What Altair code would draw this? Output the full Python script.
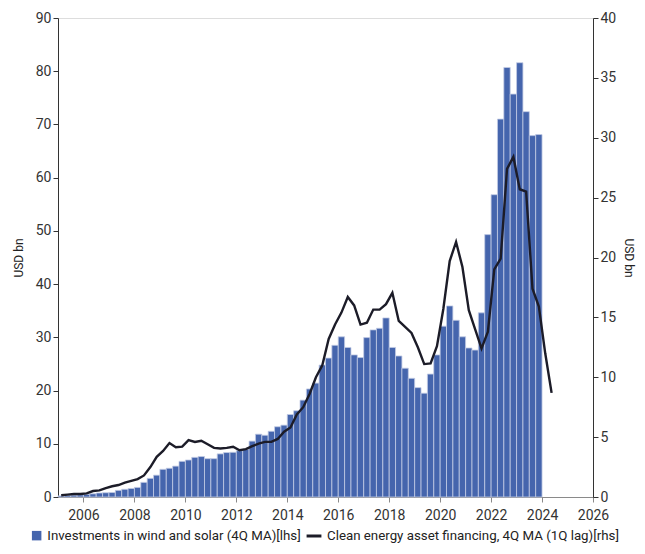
import altair as alt
import pandas as pd

# Quarterly data, first quarter = 2005 Q1
first_year = 2005

bar_label = "Investments in wind and solar (4Q MA)[lhs]"
line_label = "Clean energy asset financing, 4Q MA (1Q lag)[rhs]"

# Investments in wind and solar, USD bn (lhs), 2005Q1 .. 2023Q4
bar_values = [
    0.2, 0.3, 0.35, 0.4, 0.5, 0.6, 0.75, 0.8,
    0.85, 1.25, 1.45, 1.6, 1.8, 2.75, 3.5, 4.1,
    5.2, 5.4, 5.8, 6.7, 6.95, 7.45, 7.6, 7.2,
    7.2, 8.1, 8.35, 8.4, 8.7, 8.95, 10.5, 11.8,
    11.6, 12.35, 13.2, 13.5, 15.5, 16.2, 18.2, 20.3,
    21.4, 24.8, 26.1, 28.5, 30.1, 28.1, 26.7, 26.2,
    29.95, 31.4, 31.7, 33.65, 28.1, 26.5, 24.2, 22.3,
    20.55, 19.5, 23.1, 26.7, 32.1, 35.9, 33.2, 30.1,
    28.0, 27.6, 34.6, 49.3, 56.8, 71.0, 80.7, 75.7,
    81.6, 72.4, 67.9, 68.1,
]

# Clean energy asset financing, USD bn (rhs), 2005Q1 .. 2024Q2
line_values = [
    0.15, 0.2, 0.25, 0.25, 0.3, 0.5, 0.55, 0.75,
    0.9, 1.0, 1.2, 1.35, 1.5, 1.8, 2.5, 3.35,
    3.85, 4.5, 4.15, 4.2, 4.75, 4.6, 4.7, 4.4,
    4.1, 4.05, 4.1, 4.2, 3.9, 4.0, 4.25, 4.45,
    4.6, 4.6, 4.85, 5.45, 5.8, 6.9, 7.5, 8.6,
    10.0, 11.0, 13.2, 14.4, 15.4, 16.7, 16.0, 14.4,
    14.55, 15.65, 15.65, 16.1, 17.05, 14.7, 14.2, 13.7,
    12.5, 11.1, 11.15, 12.6, 15.7, 19.7, 21.3, 19.2,
    15.6, 14.0, 12.4, 13.8, 19.0, 19.9, 27.4, 28.4,
    25.7, 25.5, 17.4, 15.9, 12.0, 8.7,
]

x_ticks = list(range(2006, 2027, 2))
left_ticks = list(range(0, 91, 10))
right_ticks = list(range(0, 41, 5))

bars_df = pd.DataFrame({
    "start": [first_year + i * 0.25 for i in range(len(bar_values))],
    "end": [first_year + (i + 1) * 0.25 for i in range(len(bar_values))],
    "base": [0.0] * len(bar_values),
    "value": bar_values,
    "series": bar_label,
})
line_df = pd.DataFrame({
    "mid": [first_year + i * 0.25 + 0.125 for i in range(len(line_values))],
    "value": line_values,
    "series": line_label,
})

FONT = "Roboto"
x_scale = alt.Scale(domain=[2005, 2026], nice=False, zero=False)

bars = alt.Chart(bars_df).mark_bar(
    stroke="#c3cbe5", strokeWidth=0.8
).encode(
    x=alt.X("start:Q", scale=x_scale,
            axis=alt.Axis(values=x_ticks, format="d", title=None,
                          labelFont=FONT, labelFontSize=14, labelColor="#333333",
                          domainColor="#8a8a8a", tickColor="#8a8a8a", tickSize=5,
                          labelPadding=6, labelFlush=False, grid=False)),
    x2="end:Q",
    y=alt.Y("value:Q", scale=alt.Scale(domain=[0, 90], nice=False),
            axis=alt.Axis(values=left_ticks, title="USD bn", orient="left",
                          titleFont=FONT, titleFontSize=12, titleFontWeight="normal",
                          titleColor="#222222", titlePadding=10,
                          labelFont=FONT, labelFontSize=14, labelColor="#333333",
                          domainColor="#333333", tickColor="#333333", tickSize=5,
                          grid=False)),
    y2="base:Q",
    fill=alt.Fill("series:N",
                  scale=alt.Scale(domain=[bar_label], range=["#4565ad"]),
                  legend=alt.Legend(orient="none", legendX=-28, legendY=511,
                                    title=None, symbolType="square", symbolSize=90,
                                    symbolStrokeWidth=0,
                                    labelFont=FONT, labelFontSize=13.3,
                                    labelColor="#222222", labelLimit=0,
                                    symbolOffset=0, padding=0)),
)

line = alt.Chart(line_df).mark_line(strokeWidth=2.4).encode(
    x=alt.X("mid:Q", scale=x_scale),
    y=alt.Y("value:Q", scale=alt.Scale(domain=[0, 40], nice=False),
            axis=alt.Axis(values=right_ticks, title="USD bn", orient="right",
                          titleFont=FONT, titleFontSize=12, titleFontWeight="normal",
                          titleColor="#222222", titlePadding=6,
                          labelFont=FONT, labelFontSize=14, labelColor="#333333",
                          domainColor="#333333", tickColor="#333333", tickSize=5,
                          grid=False)),
    stroke=alt.Stroke("series:N",
                      scale=alt.Scale(domain=[line_label], range=["#1c1c28"]),
                      legend=alt.Legend(orient="none", legendX=247, legendY=509,
                                        title=None, symbolType="stroke", symbolSize=220,
                                        symbolStrokeWidth=3,
                                        labelFont=FONT, labelFontSize=13.3,
                                        labelColor="#222222", labelLimit=0,
                                        padding=0)),
)

chart = alt.layer(bars, line).resolve_scale(
    y="independent", fill="independent", stroke="independent"
).properties(
    width=535, height=479,
    autosize=alt.AutoSizeParams(type="none"),
    padding={"left": 50, "top": 10, "right": 44, "bottom": 49},
).configure_view(stroke=None).configure(background="white")

chart.save("out.html", embed_options={"renderer": "svg", "actions": False})
